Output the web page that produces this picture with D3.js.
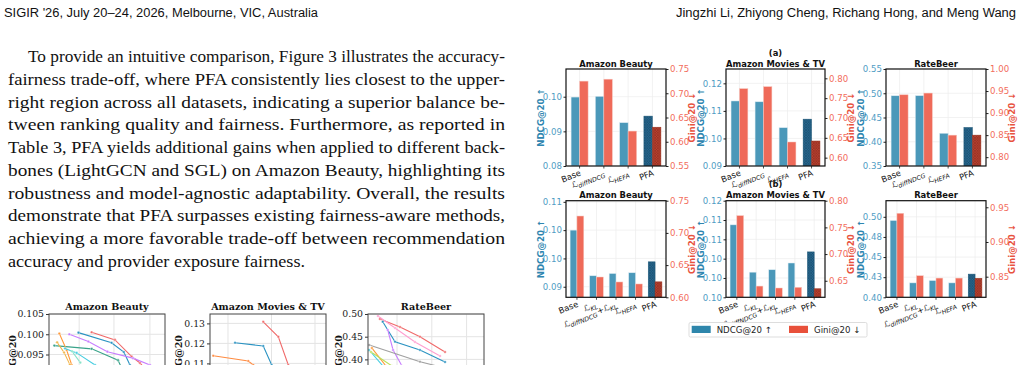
<!DOCTYPE html>
<html><head><meta charset="utf-8">
<script src="https://cdn.jsdelivr.net/npm/d3@7"></script>
<style>body{margin:0;background:#fff}svg{display:block}</style>
</head><body><svg id="c" width="1023" height="365"></svg>
<script>
// ---------------- DATA ----------------
const datasets = ["Amazon Beauty", "Amazon Movies & TV", "RateBeer"];
const catsA = ["Base", "ℒ_{diffNDCG}", "ℒ_{HEFA}", "PFA"];
const catsB = ["Base", "ℒ_{KL}", "ℒ_{diffNDCG}+ℒ_{KL}", "ℒ_{HEFA}", "PFA"];

// (a)
const ndcgA_Beauty = [0.0999, 0.1001, 0.0925, 0.0944];
const giniA_Beauty = [0.725, 0.729, 0.622, 0.630];
const ndcgA_Movies = [0.1136, 0.1133, 0.1039, 0.1070];
const giniA_Movies = [0.774, 0.779, 0.6395, 0.642];
const ndcgA_RateBeer = [0.4948, 0.4950, 0.4175, 0.4295];
const giniA_RateBeer = [0.9415, 0.9454, 0.850, 0.850];
// (b)
const ndcgB_Beauty = [0.1025, 0.0904, 0.0910, 0.0912, 0.0941];
const giniB_Beauty = [0.7262, 0.6315, 0.6238, 0.6207, 0.6240];
const ndcgB_Movies = [0.1110, 0.1012, 0.1017, 0.1031, 0.1054];
const giniB_Movies = [0.772, 0.640, 0.6364, 0.6377, 0.635];
const ndcgB_RateBeer = [0.4954, 0.4179, 0.4208, 0.4179, 0.4288];
const giniB_RateBeer = [0.9414, 0.8514, 0.848, 0.848, 0.8477];

// axis domains & ticks
const ndcgDomA = [[0.08, 0.108], [0.09, 0.1252], [0.35, 0.55]];
const giniDomA = [[0.55, 0.75], [0.579, 0.8235], [0.78, 1.0]];
const ndcgTicksA = [[0.08, 0.09, 0.10], [0.09, 0.10, 0.11, 0.12], [0.35, 0.40, 0.45, 0.50, 0.55]];
const ndcgTickLabelsA = [["0.08", "0.09", "0.10"], ["0.09", "0.10", "0.11", "0.12"], ["0.35", "0.40", "0.45", "0.50", "0.55"]];
const giniTicksA = [[0.55, 0.60, 0.65, 0.70, 0.75], [0.60, 0.65, 0.70, 0.75, 0.80], [0.80, 0.85, 0.90, 0.95, 1.00]];
const giniTickLabelsA = [["0.55", "0.60", "0.65", "0.70", "0.75"], ["0.60", "0.65", "0.70", "0.75", "0.80"], ["0.80", "0.85", "0.90", "0.95", "1.00"]];

const ndcgDomB = [[0.0847, 0.1103], [0.096, 0.116], [0.40, 0.52]];
const giniDomB = [[0.60, 0.75], [0.619, 0.80], [0.8203, 0.9595]];
const ndcgTicksB = [[0.0875, 0.095, 0.1025, 0.11], [0.096, 0.100, 0.104, 0.108, 0.112, 0.116], [0.400, 0.425, 0.450, 0.475, 0.500]];
const ndcgTickLabelsB = [["0.09", "0.10", "0.10", "0.11"], ["0.10", "0.10", "0.10", "0.11", "0.11", "0.12"], ["0.40", "0.43", "0.45", "0.48", "0.50"]];
const giniTicksB = [[0.60, 0.65, 0.70, 0.75], [0.65, 0.70, 0.75, 0.80], [0.85, 0.90, 0.95]];
const giniTickLabelsB = [["0.60", "0.65", "0.70", "0.75"], ["0.65", "0.70", "0.75", "0.80"], ["0.85", "0.90", "0.95"]];

const legendLabels = ["NDCG@20 ↑", "Gini@20 ↓"];

// trade-off line charts (bottom-left, partially visible)
const lineTitles = ["Amazon Beauty", "Amazon Movies & TV", "RateBeer"];
const lineYTicks = [[0.085, 0.090, 0.095, 0.100, 0.105], [0.09, 0.10, 0.11, 0.12, 0.13], [0.30, 0.35, 0.40, 0.45, 0.50]];
const lineYTickLabels = [["0.085", "0.090", "0.095", "0.100", "0.105"], ["0.09", "0.10", "0.11", "0.12", "0.13"], ["0.30", "0.35", "0.40", "0.45", "0.50"]];
const lineYDomains = [[0.080, 0.105], [0.08, 0.1347], [0.25, 0.50]];
const lineXTicks = [[0.26, 0.56, 0.87], [0.155, 0.53, 0.905], [0.25, 0.55, 0.85]];
const beautyX = [[0.368, 0.569, 0.713, 0.784, 0.914], [0.254, 0.539, 0.645, 0.698, 0.741], [0.175, 0.339, 0.503, 0.724, 0.871], [0.046, 0.368, 0.595, 0.655], [0.089, 0.152, 0.196], [0.07, 0.13, 0.18], [0.138, 0.239, 0.397], [0.198, 0.27]];
const beautyY = [[0.1005, 0.0986, 0.0945, 0.0929, 0.0887], [0.1004, 0.0979, 0.0956, 0.0924, 0.0887], [0.1000, 0.0982, 0.0957, 0.0941, 0.0924], [0.0972, 0.0964, 0.0936, 0.0899], [0.1002, 0.0961, 0.0924], [0.0980, 0.0955, 0.0925], [0.0965, 0.0954, 0.0924], [0.0958, 0.0930]];
const moviesX = [[0.459, 0.589, 0.675], [0.216, 0.459, 0.532], [0.028, 0.330, 0.373]];
const moviesY = [[0.1308, 0.1233, 0.1092], [0.1203, 0.1187, 0.1092], [0.1138, 0.1112, 0.1092]];
const beerX = [[0.103, 0.276, 0.448, 0.664], [0.086, 0.233, 0.405, 0.621], [0.127, 0.233, 0.448, 0.664], [0.170, 0.216, 0.293], [0.011, 0.448, 0.664], [0.009, 0.129], [0.034, 0.155], [0.026, 0.207]];
const beerY = [[0.489, 0.4714, 0.450, 0.4163], [0.4956, 0.4692, 0.4383, 0.4075], [0.483, 0.439, 0.4207, 0.3943], [0.4648, 0.4207, 0.3855], [0.4317, 0.3949, 0.381], [0.4207, 0.3855], [0.425, 0.3855], [0.4163, 0.3855]];
const beautyColors = ["#f06a6a", "#2b93c2", "#c77dff", "#3aa38a", "#ff9a3c", "#f2b64a", "#45cde0", "#86e3c8"];
const moviesColors = ["#f06a6a", "#2b93c2", "#ff8c42"];
const beerColors = ["#f06a6a", "#ff9fd0", "#2b93c2", "#c77dff", "#a0a0a0", "#45cde0", "#ff9a3c", "#b8e05a"];

const bodyLines = [
  "To provide an intuitive comparison, Figure 3 illustrates the accuracy-",
  "fairness trade-off, where PFA consistently lies closest to the upper-",
  "right region across all datasets, indicating a superior balance be-",
  "tween ranking quality and fairness. Furthermore, as reported in",
  "Table 3, PFA yields additional gains when applied to different back-",
  "bones (LightGCN and SGL) on Amazon Beauty, highlighting its",
  "robustness and model-agnostic adaptability. Overall, the results",
  "demonstrate that PFA surpasses existing fairness-aware methods,",
  "achieving a more favorable trade-off between recommendation",
  "accuracy and provider exposure fairness."
];

// ---------------- DRAW ----------------
const svg = d3.select("#c");
svg.append("rect").attr("width", 1023).attr("height", 365).attr("fill", "#fff");
const defs = svg.append("defs");
function hatch(id, base, line) {
  const p = defs.append("pattern").attr("id", id).attr("patternUnits", "userSpaceOnUse")
    .attr("width", 2.6).attr("height", 2.6);
  p.append("rect").attr("width", 2.6).attr("height", 2.6).attr("fill", base);
  p.append("path").attr("d", "M0,0L2.6,2.6M2.6,0L0,2.6").attr("stroke", line).attr("stroke-width", 0.55);
}
hatch("hN", "#27678f", "#184a68");
hatch("hG", "#b8402f", "#8a2c20");

// header
const sans = "'Liberation Sans Narrow','Liberation Sans',sans-serif";
svg.append("text").attr("x", 4).attr("y", 16.5).attr("font-family", sans).attr("font-size", 12.5)
  .attr("textLength", 314).attr("lengthAdjust", "spacingAndGlyphs").attr("fill", "#111")
  .text("SIGIR '26, July 20–24, 2026, Melbourne, VIC, Australia");
svg.append("text").attr("x", 676).attr("y", 16.5).attr("font-family", sans).attr("font-size", 12.5)
  .attr("textLength", 340).attr("lengthAdjust", "spacingAndGlyphs").attr("fill", "#111")
  .text("Jingzhi Li, Zhiyong Cheng, Richang Hong, and Meng Wang");

// body text
const body = svg.append("g").attr("font-family", "'Liberation Serif','DejaVu Serif',serif")
  .attr("font-size", 17.5).attr("fill", "#111");
bodyLines.forEach((t, i) => {
  const x = i === 0 ? 28 : 8;
  const el = body.append("text").attr("x", x).attr("y", 62 + i * 22.75).text(t);
  if (i < bodyLines.length - 1) el.attr("textLength", 505 - x).attr("lengthAdjust", "spacingAndGlyphs");
  else el.attr("textLength", 297).attr("lengthAdjust", "spacingAndGlyphs");
});

// ---------- line charts ----------
function lineChart(k, x0, x1, ylabX, xs, ys, colors) {
  const g = svg.append("g");
  const y0 = 314;
  const dom = lineYDomains[k];
  const pxPer = [20.25 / 0.005, 2000, 22.7 / 0.05][k];
  const y1 = y0 + (dom[1] - dom[0]) * pxPer;
  const x = d3.scaleLinear().domain([0, 1]).range([x0, x1]);
  const y = d3.scaleLinear().domain(dom).range([y1, y0]);
  const cid = "lc" + k;
  defs.append("clipPath").attr("id", cid).append("rect").attr("x", x0).attr("y", y0).attr("width", x1 - x0).attr("height", y1 - y0);
  g.append("rect").attr("x", x0).attr("y", y0).attr("width", x1 - x0).attr("height", y1 - y0).attr("fill", "#fff");
  g.selectAll(".gv").data(lineXTicks[k]).join("line").attr("x1", d => x(d)).attr("x2", d => x(d))
    .attr("y1", y0).attr("y2", y1).attr("stroke", "#e4e4e4").attr("stroke-width", 1);
  g.selectAll(".gh").data(lineYTicks[k]).join("line").attr("x1", x0).attr("x2", x1)
    .attr("y1", d => y(d)).attr("y2", d => y(d)).attr("stroke", "#e4e4e4").attr("stroke-width", 1);
  const lg = g.append("g").attr("clip-path", `url(#${cid})`);
  xs.forEach((sx, i) => {
    const pts = sx.map((v, j) => [x(v), y(ys[i][j])]);
    lg.append("path").attr("d", d3.line()(pts)).attr("fill", "none").attr("stroke", colors[i]).attr("stroke-width", 1.1);
    lg.selectAll(null).data(pts).join("circle").attr("cx", d => d[0]).attr("cy", d => d[1]).attr("r", 1.3)
      .attr("fill", colors[i]).attr("stroke", "#fff").attr("stroke-width", 0.4);
  });
  const ax = g.append("g").attr("transform", `translate(${x0},0)`)
    .call(d3.axisLeft(y).tickValues(lineYTicks[k]).tickFormat((d, i) => lineYTickLabels[k][i]).tickSize(3).tickPadding(2));
  ax.select(".domain").remove();
  ax.selectAll("line").attr("stroke", "#333");
  ax.selectAll("text").attr("font-family", "'DejaVu Serif',serif").attr("font-size", 9.3).attr("fill", "#222");
  g.append("rect").attr("x", x0).attr("y", y0).attr("width", x1 - x0).attr("height", y1 - y0)
    .attr("fill", "none").attr("stroke", "#444").attr("stroke-width", 1);
  g.append("text").attr("x", (x0 + x1) / 2).attr("y", y0 - 4).attr("text-anchor", "middle")
    .attr("font-family", "'DejaVu Serif',serif").attr("font-weight", "bold").attr("font-size", 9.6)
    .attr("fill", "#111").text(lineTitles[k]);
  g.append("text").attr("transform", `translate(${ylabX},${y0 + 21}) rotate(-90)`).attr("text-anchor", "end")
    .attr("dominant-baseline", "central").attr("font-family", "'DejaVu Serif',serif").attr("font-weight", "bold")
    .attr("font-size", 9.6).attr("fill", "#111").text("NDCG@20");
}
lineChart(0, 49, 165, 12, beautyX, beautyY, beautyColors);
lineChart(1, 210, 326, 178, moviesX, moviesY, moviesColors);
lineChart(2, 368, 484, 338, beerX, beerY, beerColors);

// ---------- bar charts ----------
const colN = "#4b98b9", colG = "#ef6a59";
const tickN = "#4f9dc4", tickG = "#f26d5c";
const labN = "#2f86b0", labG = "#e8533f";
const cols = [[566, 666], [726, 825], [886, 986]];
const rows = [[69, 166], [200.7, 297.3]];

function addLabel(sel, s) {
  const parts = s.split(/(_\{[^}]*\})/).filter(p => p.length);
  parts.forEach(p => {
    if (p.startsWith("_{")) {
      sel.append("tspan").attr("font-size", 6.2).attr("font-style", "italic").attr("dy", 2).text(p.slice(2, -1));
      sel.append("tspan").attr("dy", -2).text("\u200a");
    } else {
      sel.append("tspan").text(p);
    }
  });
}

function barChart(r, c, cats, ndcg, gini, nDom, gDom, nT, nL, gT, gL) {
  const g = svg.append("g");
  const [x0, x1] = cols[c], [y0, y1] = rows[r];
  const n = cats.length;
  const x = d3.scaleLinear().domain([-0.56, n - 1 + 0.56]).range([x0, x1]);
  const yN = d3.scaleLinear().domain(nDom).range([y1, y0]);
  const yG = d3.scaleLinear().domain(gDom).range([y1, y0]);
  const bw = 0.35;
  const cid = `bc${r}${c}`;
  defs.append("clipPath").attr("id", cid).append("rect").attr("x", x0).attr("y", y0).attr("width", x1 - x0).attr("height", y1 - y0);
  // grid
  g.selectAll(".gv").data(d3.range(n)).join("line").attr("x1", i => x(i)).attr("x2", i => x(i))
    .attr("y1", y0).attr("y2", y1).attr("stroke", "#ececec").attr("stroke-width", 0.7);
  g.selectAll(".gh").data(nT).join("line").attr("x1", x0).attr("x2", x1)
    .attr("y1", d => yN(d)).attr("y2", d => yN(d)).attr("stroke", "#ececec").attr("stroke-width", 0.7);
  const bg = g.append("g").attr("clip-path", `url(#${cid})`);
  bg.selectAll(".bn").data(ndcg).join("rect")
    .attr("x", (d, i) => x(i - bw)).attr("width", (d, i) => x(i) - x(i - bw))
    .attr("y", d => yN(d)).attr("height", d => yN(nDom[0]) - yN(d))
    .attr("fill", (d, i) => i === n - 1 ? "url(#hN)" : colN)
    .attr("stroke", (d, i) => i === n - 1 ? "#1e5878" : "#d9eaf2").attr("stroke-width", 0.5);
  bg.selectAll(".bg").data(gini).join("rect")
    .attr("x", (d, i) => x(i)).attr("width", (d, i) => x(i + bw) - x(i))
    .attr("y", d => yG(d)).attr("height", d => yG(gDom[0]) - yG(d))
    .attr("fill", (d, i) => i === n - 1 ? "url(#hG)" : colG)
    .attr("stroke", (d, i) => i === n - 1 ? "#96321f" : "#f7c7bf").attr("stroke-width", 0.5);
  // axes
  const al = g.append("g").attr("transform", `translate(${x0},0)`)
    .call(d3.axisLeft(yN).tickValues(nT).tickFormat((d, i) => nL[i]).tickSize(2.5).tickPadding(1.5));
  al.select(".domain").remove();
  al.selectAll("line").attr("stroke", "#222");
  al.selectAll("text").attr("font-family", "'DejaVu Sans',sans-serif").attr("font-size", 8.6).attr("fill", tickN);
  const ar = g.append("g").attr("transform", `translate(${x1},0)`)
    .call(d3.axisRight(yG).tickValues(gT).tickFormat((d, i) => gL[i]).tickSize(2.5).tickPadding(1.5));
  ar.select(".domain").remove();
  ar.selectAll("line").attr("stroke", "#222");
  ar.selectAll("text").attr("font-family", "'DejaVu Sans',sans-serif").attr("font-size", 8.6).attr("fill", tickG);
  g.selectAll(".xt").data(d3.range(n)).join("line").attr("x1", i => x(i)).attr("x2", i => x(i))
    .attr("y1", y1).attr("y2", y1 + 2.5).attr("stroke", "#222").attr("stroke-width", 0.8);
  cats.forEach((s, i) => {
    const t = g.append("text").attr("transform", `translate(${x(i) + 2},${y1 + 9}) rotate(-22)`)
      .attr("text-anchor", "end").attr("font-family", "'DejaVu Sans',sans-serif").attr("font-size", 8.4)
      .attr("fill", "#111");
    addLabel(t, s);
  });
  g.append("rect").attr("x", x0).attr("y", y0).attr("width", x1 - x0).attr("height", y1 - y0)
    .attr("fill", "none").attr("stroke", "#111").attr("stroke-width", 1.2);
  g.append("text").attr("x", (x0 + x1) / 2).attr("y", y0 - 2.5).attr("text-anchor", "middle")
    .attr("font-family", "'DejaVu Sans',sans-serif").attr("font-weight", "bold").attr("font-size", 8.4)
    .attr("fill", "#111").text(datasets[c]);
  if (c === 1) {
    g.append("text").attr("x", (x0 + x1) / 2).attr("y", y0 - 13.5).attr("text-anchor", "middle")
      .attr("font-family", "'DejaVu Sans',sans-serif").attr("font-weight", "bold").attr("font-size", 8.4)
      .attr("fill", "#111").text(r === 0 ? "(a)" : "(b)");
  }
  const ym = (y0 + y1) / 2;
  g.append("text").attr("transform", `translate(${x0 - 25},${ym}) rotate(-90)`).attr("text-anchor", "middle")
    .attr("dominant-baseline", "central").attr("font-family", "'DejaVu Sans',sans-serif").attr("font-weight", "bold")
    .attr("font-size", 8.6).attr("fill", labN).text(legendLabels[0]);
  g.append("text").attr("transform", `translate(${x1 + 26},${ym}) rotate(-90)`).attr("text-anchor", "middle")
    .attr("dominant-baseline", "central").attr("font-family", "'DejaVu Sans',sans-serif").attr("font-weight", "bold")
    .attr("font-size", 8.6).attr("fill", labG).text(legendLabels[1]);
}

const nA = [ndcgA_Beauty, ndcgA_Movies, ndcgA_RateBeer], gA = [giniA_Beauty, giniA_Movies, giniA_RateBeer];
const nB = [ndcgB_Beauty, ndcgB_Movies, ndcgB_RateBeer], gB = [giniB_Beauty, giniB_Movies, giniB_RateBeer];
for (let c = 0; c < 3; c++) {
  barChart(0, c, catsA, nA[c], gA[c], ndcgDomA[c], giniDomA[c], ndcgTicksA[c], ndcgTickLabelsA[c], giniTicksA[c], giniTickLabelsA[c]);
  barChart(1, c, catsB, nB[c], gB[c], ndcgDomB[c], giniDomB[c], ndcgTicksB[c], ndcgTickLabelsB[c], giniTicksB[c], giniTickLabelsB[c]);
}

// legend
const lg = svg.append("g");
lg.append("rect").attr("x", 689).attr("y", 322.5).attr("width", 178).attr("height", 14.5).attr("rx", 1.5)
  .attr("fill", "#fff").attr("stroke", "#d4d4d4").attr("stroke-width", 0.8);
const legCols = ["#2e86ab", "#e8503a"];
const legX = [691.7, 789];
legendLabels.forEach((t, i) => {
  lg.append("rect").attr("x", legX[i]).attr("y", 325.8).attr("width", 19).attr("height", 7.2).attr("fill", legCols[i]);
  lg.append("text").attr("x", legX[i] + 25).attr("y", 332.6).attr("font-family", "'DejaVu Sans',sans-serif")
    .attr("font-size", 8.6).attr("fill", "#222").text(t);
});
</script></body></html>
